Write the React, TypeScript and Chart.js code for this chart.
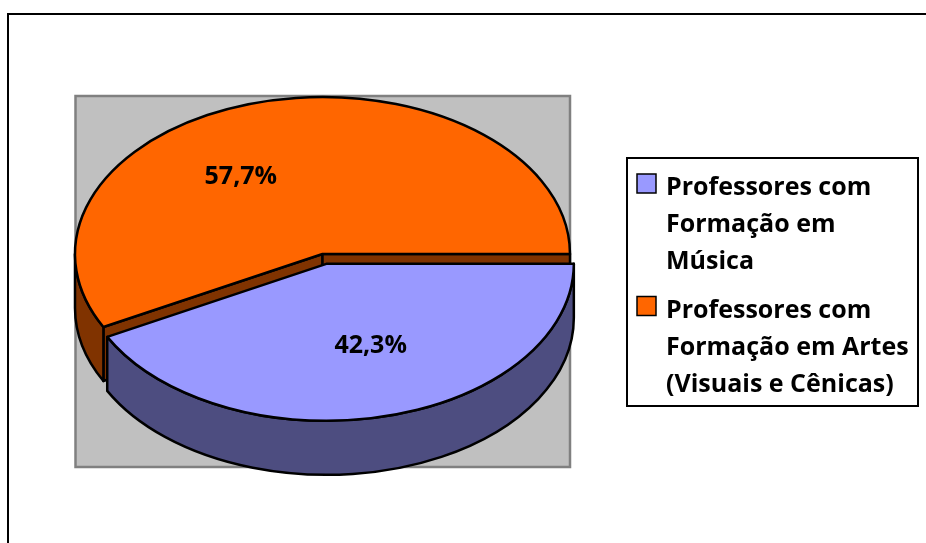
import React, { useEffect, useRef } from "react";
import { Chart, registerables } from "chart.js";

Chart.register(...registerables);

// ---------- data ----------
const categories: string[][] = [
  ["Professores com", "Formação em", "Música"],
  ["Professores com", "Formação em Artes", "(Visuais e Cênicas)"],
];
const shares: number[] = [42.3, 57.7];
const topColors: string[] = ["#9999FF", "#FF6600"];
const sideColors: string[] = ["#4D4D80", "#803300"];

// ---------- style ----------
const FONT_FAMILY = "'Open Sans', Lato, sans-serif";
const FONT_SIZE = 25;
const TILT = 157 / 247.5;
const DEPTH = 54;
const EXPLODE = [16, 0];
const LABEL_ANCHORS = [
  { angle: 71, frac: 0.55 },
  { angle: 236, frac: 0.59 },
];

const fmt = (v: number) => v.toFixed(1).replace(".", ",") + "%";

function sliceGeom(chart: any) {
  const meta = chart.getDatasetMeta(0);
  return meta.data.map((arc: any, i: number) => {
    const p = arc.getProps(["x", "y", "startAngle", "endAngle", "outerRadius"], true);
    const mid = (p.startAngle + p.endAngle) / 2;
    const e = EXPLODE[i] || 0;
    return {
      i,
      a0: p.startAngle,
      a1: p.endAngle,
      mid,
      r: p.outerRadius,
      cx: p.x + e * Math.cos(mid),
      cy: p.y + TILT * e * Math.sin(mid),
      rx: p.outerRadius,
      ry: p.outerRadius * TILT,
    };
  });
}

const backgroundPlugin = {
  id: "bg",
  beforeDraw(chart: any) {
    const ctx = chart.ctx;
    ctx.save();
    ctx.fillStyle = "#ffffff";
    ctx.fillRect(0, 0, chart.width, chart.height);
    // outer frame
    ctx.strokeStyle = "#000000";
    ctx.lineWidth = 2;
    ctx.strokeRect(8, 14, 940, 560);
    // plot area
    ctx.fillStyle = "#C0C0C0";
    ctx.fillRect(75, 96, 495, 371);
    ctx.strokeStyle = "#808080";
    ctx.lineWidth = 2.5;
    ctx.strokeRect(75.5, 96, 494.5, 371);
    ctx.restore();
  },
};

const pie3DPlugin = {
  id: "pie3d",
  beforeDatasetsDraw(chart: any) {
    const ctx = chart.ctx;
    const slices = sliceGeom(chart).sort(
      (a: any, b: any) => Math.sin(a.mid) - Math.sin(b.mid)
    );
    ctx.save();
    ctx.lineWidth = 2.5;
    ctx.lineJoin = "round";
    ctx.strokeStyle = "#000000";
    for (const s of slices) {
      const side = sideColors[s.i];
      const top = topColors[s.i];
      const face = (a: number) => {
        ctx.beginPath();
        ctx.moveTo(s.cx, s.cy);
        ctx.lineTo(s.cx + s.rx * Math.cos(a), s.cy + s.ry * Math.sin(a));
        ctx.lineTo(s.cx + s.rx * Math.cos(a), s.cy + s.ry * Math.sin(a) + DEPTH);
        ctx.lineTo(s.cx, s.cy + DEPTH);
        ctx.closePath();
        ctx.fillStyle = side;
        ctx.fill();
        ctx.stroke();
      };
      if (Math.cos(s.a0) < 0) face(s.a0);
      if (Math.cos(s.a1) > 0) face(s.a1);
      // outer wall (front half only)
      for (let n = -1; n <= 1; n++) {
        const lo = Math.max(s.a0, 2 * Math.PI * n);
        const hi = Math.min(s.a1, 2 * Math.PI * n + Math.PI);
        if (hi > lo) {
          ctx.beginPath();
          ctx.ellipse(s.cx, s.cy, s.rx, s.ry, 0, lo, hi, false);
          ctx.lineTo(s.cx + s.rx * Math.cos(hi), s.cy + s.ry * Math.sin(hi) + DEPTH);
          ctx.ellipse(s.cx, s.cy + DEPTH, s.rx, s.ry, 0, hi, lo, true);
          ctx.closePath();
          ctx.fillStyle = side;
          ctx.fill();
          ctx.stroke();
        }
      }
      // top
      ctx.beginPath();
      ctx.moveTo(s.cx, s.cy);
      ctx.ellipse(s.cx, s.cy, s.rx, s.ry, 0, s.a0, s.a1, false);
      ctx.closePath();
      ctx.fillStyle = top;
      ctx.fill();
      ctx.stroke();
    }
    ctx.restore();
    return false;
  },
  afterDraw(chart: any) {
    const ctx = chart.ctx;
    const slices = sliceGeom(chart);
    ctx.save();
    // value labels
    ctx.fillStyle = "#000000";
    ctx.font = `bold ${FONT_SIZE}px ${FONT_FAMILY}`;
    ctx.textAlign = "center";
    ctx.textBaseline = "middle";
    for (const s of slices) {
      const anc = LABEL_ANCHORS[s.i];
      const a = (anc.angle * Math.PI) / 180;
      const rr = anc.frac * s.r;
      const x = s.cx + rr * Math.cos(a);
      const y = s.cy + TILT * rr * Math.sin(a);
      ctx.fillText(fmt(chart.data.datasets[0].data[s.i]), x, y);
    }
    // legend
    ctx.strokeStyle = "#000000";
    ctx.lineWidth = 2;
    ctx.strokeRect(627, 158, 291, 248);
    ctx.textAlign = "left";
    ctx.textBaseline = "alphabetic";
    const lineH = 37;
    const entryGap = 48.5;
    let y = 195;
    const labels = chart.data.labels as string[][];
    labels.forEach((lines, i) => {
      ctx.fillStyle = topColors[i];
      ctx.fillRect(637, y - 21, 19, 19);
      ctx.lineWidth = 1.5;
      ctx.strokeRect(637, y - 21, 19, 19);
      ctx.fillStyle = "#000000";
      lines.forEach((ln, j) => {
        ctx.fillText(ln, 666, y + j * lineH);
      });
      y = y + (lines.length - 1) * lineH + entryGap;
    });
    ctx.restore();
  },
};

export default function App() {
  const ref = useRef<HTMLCanvasElement | null>(null);
  useEffect(() => {
    if (!ref.current) return;
    const chart = new Chart(ref.current, {
      type: "pie",
      data: {
        labels: categories,
        datasets: [
          {
            data: shares,
            backgroundColor: topColors,
            borderWidth: 0,
          },
        ],
      },
      options: {
        responsive: false,
        animation: false,
        devicePixelRatio: 1,
        events: [],
        rotation: 90,
        radius: 247.5,
        layout: { padding: { left: 0, right: 281, top: 0, bottom: 35 } },
        plugins: {
          legend: { display: false },
          tooltip: { enabled: false },
        },
      } as any,
      plugins: [backgroundPlugin, pie3DPlugin],
    });
    return () => chart.destroy();
  }, []);
  return (
    <div
      style={{
        position: "fixed",
        left: 0,
        top: 0,
        width: 926,
        height: 543,
        background: "#fff",
      }}
    >
      <canvas ref={ref} width={926} height={543} style={{ display: "block" }} />
    </div>
  );
}
